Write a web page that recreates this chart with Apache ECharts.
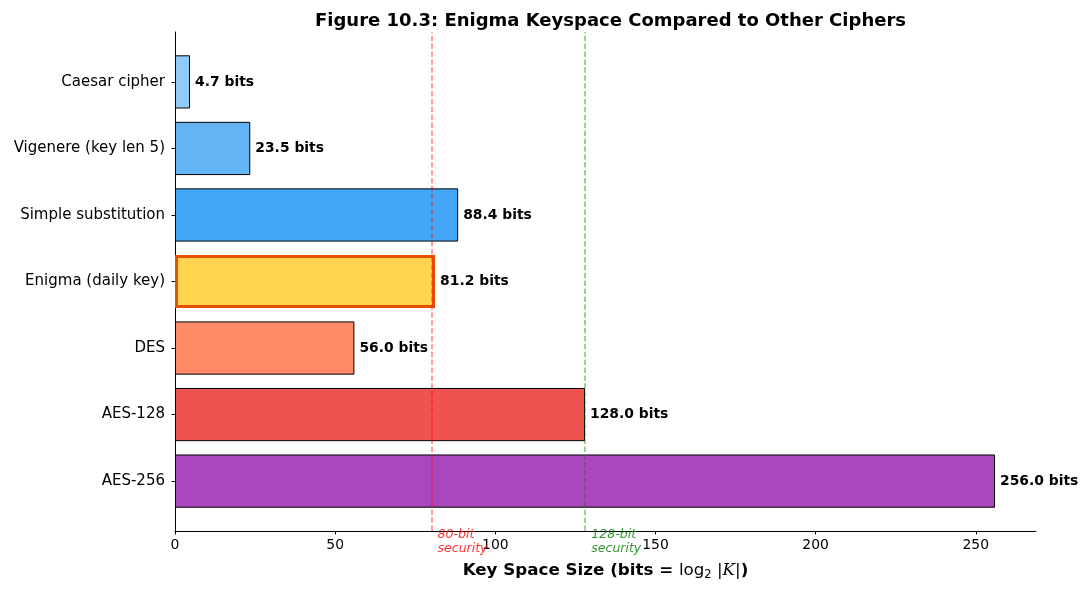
<!DOCTYPE html>
<html>
<head>
<meta charset="utf-8">
<script src="https://cdn.jsdelivr.net/npm/echarts@6/dist/echarts.min.js"></script>
<style>
  html, body { margin: 0; padding: 0; background: #fff; }
  #main { width: 1089px; height: 590px; }
</style>
</head>
<body>
<div id="main"></div>
<script>
const categories = ['Caesar cipher', 'Vigenere (key len 5)', 'Simple substitution', 'Enigma (daily key)', 'DES', 'AES-128', 'AES-256']
const bits = [4.7, 23.5, 88.4, 81.2, 56.0, 128.0, 256.0]
const barColors = ['#90CAF9', '#64B5F6', '#42A5F5', '#FFD54F', '#FF8A65', '#EF5350', '#AB47BC']
const xTicks = [0, 50, 100, 150, 200, 250]
const thresholds = [80, 128]
const thresholdNames = ['80-bit\nsecurity', '128-bit\nsecurity']

const font = 'DejaVu Sans'
const xMax = 268.8

let myChart = echarts.init(document.getElementById('main'), null, { renderer: 'canvas' })

const barData = bits.map((v, i) => {
    const item = {
        value: v,
        itemStyle: { color: barColors[i], borderColor: '#000', borderWidth: 1 }
    }
    if (categories[i].startsWith('Enigma')) {
        item.itemStyle.borderColor = '#E65100'
        item.itemStyle.borderWidth = 3
    }
    return item
})

myChart.setOption({
    animation: false,
    title: {
        text: 'Figure 10.3: Enigma Keyspace Compared to Other Ciphers',
        left: 605.5,
        textAlign: 'center',
        top: 7,
        textStyle: { fontFamily: font, fontSize: 18, fontWeight: 'bold', color: '#000' }
    },
    grid: [
        { left: 175, right: 53, top: 32, bottom: 59 },
        { left: 175, right: 53, top: 48.65, bottom: 75.65 }
    ],
    xAxis: [{
        gridIndex: 0,
        type: 'value',
        min: 0,
        max: xMax,
        interval: 50,
        axisLine: { lineStyle: { color: '#000', width: 1 } },
        axisTick: { show: true, length: 3.5, lineStyle: { color: '#000' }, customValues: xTicks },
        axisLabel: { fontFamily: font, fontSize: 13.9, color: '#000', margin: 7, customValues: xTicks },
        splitLine: { show: false },
        name: '{b|Key Space Size (bits = }{n|log}{s|2}{n| |}{k|K}{n||}{b|)}',
        nameLocation: 'middle',
        nameGap: 30,
        nameTextStyle: {
            rich: {
                b: { fontFamily: font, fontSize: 16.7, fontWeight: 'bold', color: '#000' },
                n: { fontFamily: font, fontSize: 16.7, color: '#000' },
                s: { fontFamily: font, fontSize: 11.5, color: '#000', padding: [8, 0, 0, 0] },
                k: { fontFamily: 'DejaVu Serif', fontSize: 16.7, fontStyle: 'italic', color: '#000' }
            }
        }
    }, {
        gridIndex: 1,
        type: 'value',
        min: 0,
        max: xMax,
        show: false
    }],
    yAxis: [{
        gridIndex: 0,
        type: 'value',
        min: 0,
        max: 1,
        axisLine: { show: true, lineStyle: { color: '#000', width: 1 } },
        axisTick: { show: false },
        axisLabel: { show: false },
        splitLine: { show: false }
    }, {
        gridIndex: 1,
        type: 'category',
        inverse: true,
        data: categories,
        axisLine: { show: false },
        axisTick: { show: true, alignWithLabel: true, length: 3.5, lineStyle: { color: '#000' } },
        axisLabel: { fontFamily: font, fontSize: 15, color: '#000', margin: 10 },
        splitLine: { show: false }
    }],
    series: [{
        type: 'bar',
        xAxisIndex: 1,
        yAxisIndex: 1,
        barWidth: '80%',
        data: barData,
        z: 2,
        label: {
            show: true,
            position: 'right',
            distance: 5,
            fontFamily: font,
            fontSize: 13.9,
            fontWeight: 'bold',
            color: '#000',
            formatter: p => p.value.toFixed(1) + ' bits'
        }
    }, {
        type: 'scatter',
        xAxisIndex: 0,
        yAxisIndex: 0,
        z: 5,
        clip: false,
        silent: true,
        symbolSize: 0.1,
        itemStyle: { color: 'transparent' },
        data: thresholds.map((t, i) => ({
            value: [t + 2, 0],
            label: {
                show: true,
                position: [0, -3],
                align: 'left',
                verticalAlign: 'top',
                formatter: thresholdNames[i],
                fontFamily: font,
                fontSize: 12.5,
                lineHeight: 14,
                fontStyle: 'italic',
                color: i === 0 ? '#ff0000' : '#008000'
            }
        })),
        markLine: {
            silent: true,
            symbol: 'none',
            label: { show: false },
            data: [
                { xAxis: thresholds[0], lineStyle: { color: 'rgba(255,0,0,0.5)', type: [5.5, 2.4], width: 1.5 } },
                { xAxis: thresholds[1], lineStyle: { color: 'rgba(0,128,0,0.5)', type: [5.5, 2.4], width: 1.5 } }
            ]
        }
    }]
})
</script>
</body>
</html>
